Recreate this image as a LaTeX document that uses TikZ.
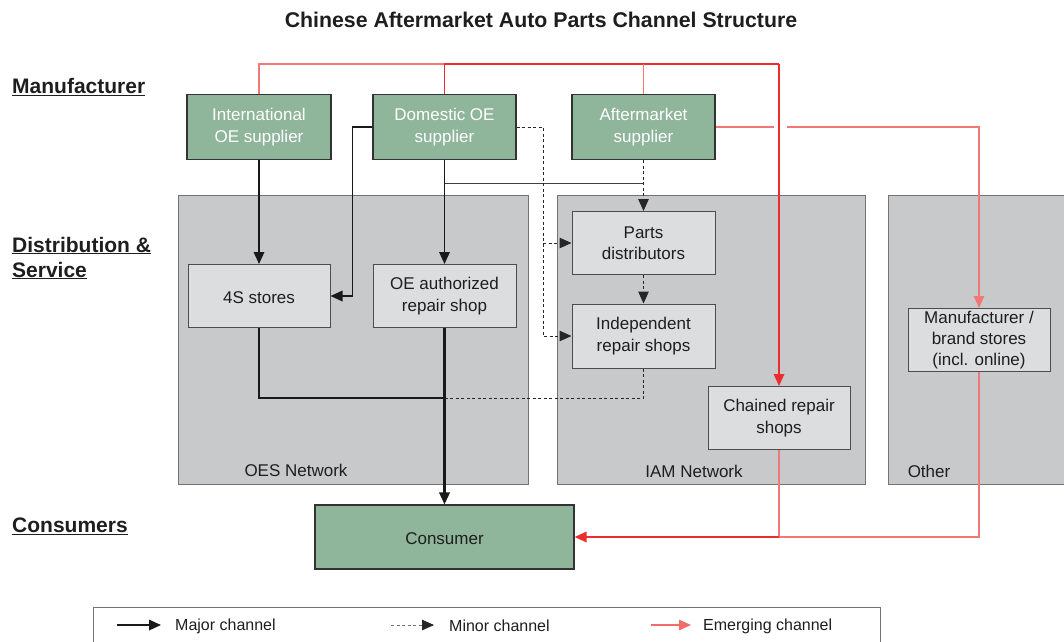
\documentclass[tikz,border=0pt]{standalone}
\usepackage{fontspec}
\setmainfont{Liberation Sans}
\usetikzlibrary{arrows.meta,calc}
\definecolor{grn}{RGB}{143,181,155}
\definecolor{panel}{RGB}{200,201,203}
\definecolor{inner}{RGB}{220,221,223}
\definecolor{redA}{RGB}{236,45,45}
\definecolor{redB}{RGB}{242,120,120}
\definecolor{txt}{RGB}{30,30,30}
\tikzset{
  every node/.style={font=\fontsize{17}{21.5}\selectfont},
  onel/.style={execute at begin node={\rule{0pt}{14.5pt}}},
  multl/.style={execute at begin node={\vspace*{5pt}}},
  supbox/.style={draw=black!80, line width=1.2pt, fill=grn, text=white, align=center, minimum width=143pt, minimum height=65pt, inner sep=0pt},
  inbox/.style={draw=black!70, line width=1pt, fill=inner, text=txt, align=center, minimum width=142pt, minimum height=63pt, inner sep=0pt},
  pnl/.style={draw=black!55, line width=1pt, fill=panel},
  tip/.style={-{Triangle[length=12pt,width=10.5pt]}},
  major/.style={draw=black!90, line width=1.7pt},
  minor/.style={draw=black!85, line width=1pt, dash pattern=on 3pt off 2.5pt},
  thinl/.style={draw=black!75, line width=1pt},
  emerg/.style={draw=redA, line width=1.7pt},
  emergl/.style={draw=redB, line width=1.3pt},
  sidelbl/.style={font=\fontsize{21}{25}\selectfont\bfseries, text=txt, anchor=west, align=left, inner sep=0pt},
  lbl/.style={text=txt, inner sep=0pt},
}
\begin{document}
\begin{tikzpicture}[x=1pt,y=-1pt]
\useasboundingbox (0,0) rectangle (1064,641);
% title
\node[lbl, font=\fontsize{21.3}{24}\selectfont\bfseries] (title) at (541,20) {Chinese Aftermarket Auto Parts Channel Structure};
% side labels
\node[sidelbl] (lman) at (12,87) {\underline{Manufacturer}};
\node[sidelbl] (ldist) at (12,258) {\underline{Distribution \&}\\\underline{Service}};
\node[sidelbl] (lcons) at (12,526) {\underline{Consumers}};
% panels
\draw[pnl] (178,195) rectangle (528,484);
\draw[pnl] (557,195) rectangle (865,484);
\draw[pnl] (888,195) rectangle (1070,484);
\node[lbl] (oes) at (296,470) {OES Network};
\node[lbl] (iam) at (694,471) {IAM Network};
\node[lbl] (oth) at (929,471) {Other};
% supplier boxes
\node[supbox, multl, minimum width=144pt] (intl) at (259,127) {International\\OE supplier};
\node[supbox, multl] (dom) at (444.5,127) {Domestic OE\\supplier};
\node[supbox, multl] (aft) at (643.5,127) {Aftermarket\\supplier};
% inner boxes
\node[inbox, onel] (s4) at (259,296) {4S stores};
\node[inbox, multl, minimum width=143pt] (oea) at (444.5,296) {OE authorized\\repair shop};
\node[inbox, multl, minimum width=143pt] (parts) at (643.5,243) {Parts\\distributors};
\node[inbox, multl, minimum width=143pt, minimum height=64pt] (indep) at (643.5,336) {Independent\\repair shops};
\node[inbox, multl] (chain) at (779,418) {Chained repair\\shops};
\node[inbox, multl, font=\fontsize{17}{21}\selectfont] (brand) at (979,340) {Manufacturer /\\brand stores\\(incl. online)};
\node[supbox, onel, minimum width=259pt, minimum height=64pt, text=txt] (cons) at (444.5,537) {Consumer};
% coordinates
\coordinate (j1) at (444.5,183);
\coordinate (j2) at (643.5,183);
\coordinate (dcol) at (543,336);
\coordinate (mj) at (444.5,398);
\coordinate (rt) at (779,64);
\coordinate (gapL) at (774,127);
\coordinate (gapR) at (787,127);
\coordinate (cr) at (779,537);
% major
\draw[major, tip] (intl.south) -- (s4.north);
\draw[major, tip] (dom.west) -- ++(-20,0) |- (s4.east);
\draw[major, tip] (dom.south) -- (oea.north);
\draw[major] (s4.south) |- (mj);
\draw[major, line width=2.1pt, tip] (oea.south) -- (cons.north);
\draw[thinl] (j1) -- (j2);
% minor
\draw[minor, tip] (dom.east) -| (dcol) -- (indep.west);
\draw[minor, tip] (dcol |- parts.west) -- (parts.west);
\draw[minor, tip] (aft.south) -- (parts.north);
\draw[minor, tip] (parts.south) -- (indep.north);
\draw[minor] (indep.south) |- (mj);
% emerging
\draw[emergl] (aft.east) -- (gapL);
\draw[emergl, tip] (gapR) -| (brand.north);
\draw[emergl] (intl.north) |- (dom.north |- rt);
\draw[emerg] (dom.north) |- (rt);
\draw[emergl] (aft.north) -- (aft.north |- rt);
\draw[emerg, tip] (rt) -- (chain.north);
\draw[emergl] (chain.south) -- (cr);
\draw[emergl] (brand.south) |- (cr);
\draw[emerg, tip] (cr) -- (cons.east);
% legend
\draw[draw=black!55, line width=1pt, fill=white] (93,607) rectangle (880,650);
\coordinate (l1a) at (117,625); \coordinate (l1b) at (161,625);
\coordinate (l2a) at (391,625); \coordinate (l2b) at (434,625);
\coordinate (l3a) at (651,625); \coordinate (l3b) at (691,625);
\draw[major, tip] (l1a) -- (l1b);
\draw[minor, draw=black!55] (l2a) -- (l2b);
\draw[black!85, line width=1pt, -{Triangle[length=12pt,width=10.5pt]}] ($(l2b)+(-12,0)$) -- (l2b);
\draw[emergl, draw=redA!70, tip] (l3a) -- (l3b);
\node[lbl, anchor=west, font=\fontsize{16}{19}\selectfont] (t1) at (175,626) {Major channel};
\node[lbl, anchor=west, font=\fontsize{16}{19}\selectfont] (t2) at (449,626) {Minor channel};
\node[lbl, anchor=west, font=\fontsize{16}{19}\selectfont] (t3) at (703,626) {Emerging channel};
\end{tikzpicture}
\end{document}
